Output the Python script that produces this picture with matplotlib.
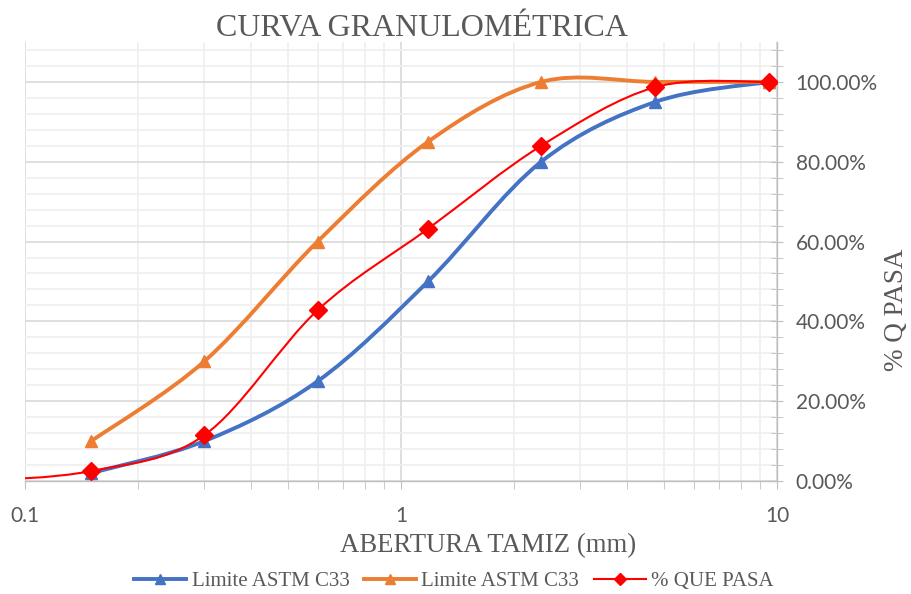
import numpy as np
import matplotlib
matplotlib.use('Agg')
import matplotlib.pyplot as plt
from matplotlib.path import Path
from matplotlib.patches import PathPatch
from matplotlib.lines import Line2D
from matplotlib.ticker import MultipleLocator, PercentFormatter, LogLocator, NullFormatter, FixedLocator, FixedFormatter

# datos
aberturas = [0.15, 0.3, 0.6, 1.18, 2.36, 4.75, 9.5]
lim_inf = [0.02, 0.10, 0.25, 0.50, 0.80, 0.95, 1.00]
lim_sup = [0.10, 0.30, 0.60, 0.85, 1.00, 1.00, 1.00]
aberturas_muestra = [0.075, 0.15, 0.3, 0.6, 1.18, 2.36, 4.75, 9.5]
pasa = [0.0, 0.025, 0.115, 0.428, 0.632, 0.84, 0.987, 1.0]
nombres = ['Limite ASTM C33', 'Limite ASTM C33', '% QUE PASA']
colores = ['#4472C4', '#ED7D31', '#FF0000']

GRIS = '#595959'
SERIF = 'Liberation Serif'


def curva_suave(x, y):
    # linea suavizada tipo Excel (bezier catmull-rom en escala log)
    pts = np.column_stack([np.log10(x), np.asarray(y, dtype=float)])
    n = len(pts)
    verts = [pts[0]]
    codes = [Path.MOVETO]
    for i in range(n - 1):
        p0 = pts[max(i - 1, 0)]
        p1 = pts[i]
        p2 = pts[i + 1]
        p3 = pts[min(i + 2, n - 1)]
        verts += [p1 + (p2 - p0) / 6, p2 - (p3 - p1) / 6, p2]
        codes += [Path.CURVE4] * 3
    verts = np.array(verts)
    verts[:, 0] = 10 ** verts[:, 0]
    return Path(verts, codes)


fig = plt.figure(figsize=(9.12, 5.94), dpi=100)
ax = fig.add_axes([25 / 912, 1 - 481 / 594, 752 / 912, 439 / 594])
ax.set_xscale('log')
ax.set_xlim(0.1, 10)
ax.set_ylim(0, 1.1)

series = [(aberturas, lim_inf, '^', 8, 2.8, 7), (aberturas, lim_sup, '^', 8, 2.8, 7),
          (aberturas_muestra, pasa, 'D', 9, 1.5, 6)]
handles = []
for (x, y, mk, ms, lw, ms_ley), nom, c in zip(series, nombres, colores):
    ax.add_patch(PathPatch(curva_suave(x, y), fill=False, edgecolor=c, lw=lw, zorder=3))
    ax.plot(x, y, ls='none', marker=mk, ms=ms, color=c, zorder=4)
    handles.append(Line2D([], [], color=c, lw=lw, marker=mk, ms=ms_ley))

# ejes
ax.yaxis.tick_right()
ax.yaxis.set_major_locator(MultipleLocator(0.2))
ax.yaxis.set_minor_locator(MultipleLocator(0.04))
ax.yaxis.set_major_formatter(PercentFormatter(1.0, decimals=2))
ax.set_yticks([0, 0.2, 0.4, 0.6, 0.8, 1.0])
ax.xaxis.set_major_locator(FixedLocator([0.1, 1, 10]))
ax.xaxis.set_major_formatter(FixedFormatter(['0.1', '1', '10']))
ax.xaxis.set_minor_locator(LogLocator(base=10, subs=np.arange(2, 10)))
ax.xaxis.set_minor_formatter(NullFormatter())

for s in ['top', 'left']:
    ax.spines[s].set_visible(False)
for s in ['bottom', 'right']:
    ax.spines[s].set_color('#BFBFBF')
    ax.spines[s].set_linewidth(1.0)

ax.tick_params(axis='x', which='both', direction='out', length=6, color='#BFBFBF',
               labelsize=15, labelcolor=GRIS, pad=12)
ax.tick_params(axis='y', which='both', direction='inout', length=9, color='#BFBFBF',
               labelsize=15, labelcolor=GRIS, pad=9)
for lab in ax.get_xticklabels() + ax.get_yticklabels():
    lab.set_family('Lato')

ax.grid(which='major', color='#D9D9D9', lw=1.2)
ax.grid(which='minor', color='#EFEFEF', lw=1.2)
ax.set_axisbelow(True)

# titulos
fig.text(422 / 912, 1 - 29 / 594, 'CURVA GRANULOMÉTRICA', ha='center', va='center',
         family=SERIF, fontsize=23, color=GRIS)
fig.text(488 / 912, 1 - 546 / 594, 'ABERTURA TAMIZ (mm)', ha='center', va='center',
         family=SERIF, fontsize=19.3, color=GRIS)
fig.text(897 / 912, 1 - 310 / 594, '% Q PASA', ha='center', va='center', rotation=90,
         family=SERIF, fontsize=19.5, color=GRIS)

fig.legend(handles=handles, labels=nombres, loc='center', ncol=3,
           bbox_to_anchor=(454 / 912, 1 - 581 / 594), frameon=False,
           prop={'family': SERIF, 'size': 15}, labelcolor=GRIS,
           handlelength=2.5, columnspacing=0.7, handletextpad=0.25, numpoints=1)

fig.savefig('out.png', dpi=100)
